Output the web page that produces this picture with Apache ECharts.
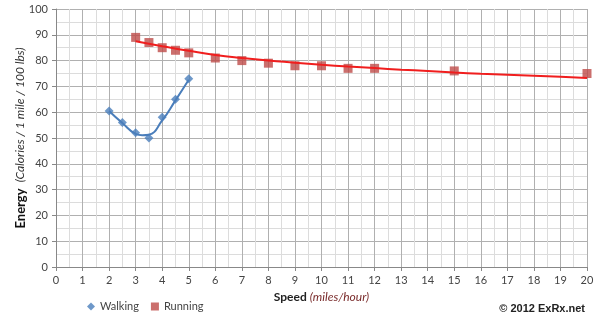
<!DOCTYPE html>
<html>
<head>
<meta charset="utf-8">
<script src="https://cdn.jsdelivr.net/npm/echarts@6/dist/echarts.min.js"></script>
<style>
  html, body { margin: 0; padding: 0; background: #fff; }
  #chart { width: 600px; height: 322px; }
</style>
</head>
<body>
<div id="chart"></div>
<script>
// Energy cost per mile by speed, for walking and running.
const walkSpeed = [2, 2.5, 3, 3.5, 4, 4.5, 5];
const walkEnergy = [60.5, 56, 52, 50, 58, 65, 73];
// Fitted curve through the walking measurements
const walkFitSpeed = [2, 2.5, 3, 3.25, 3.5, 4, 4.5, 5];
const walkFitEnergy = [60.5, 55.8, 51.6, 51.1, 51.3, 56.8, 64.6, 72.6];

const runSpeed = [3, 3.5, 4, 4.5, 5, 6, 7, 8, 9, 10, 11, 12, 15, 20];
const runEnergy = [89, 87, 85, 84, 83, 81, 80, 79, 78, 78, 77, 77, 76, 75];
// Fitted trend for running
const runFitSpeed = [3, 4, 5, 6, 7, 8, 9, 10, 11, 12, 13, 14, 15, 16, 17, 18, 19, 20];
const runFitEnergy = [87.5, 85.6, 83.8, 82.2, 81.0, 80.0, 79.2, 78.4, 77.7, 77.1, 76.5, 76.0, 75.4, 74.9, 74.5, 74.1, 73.7, 73.3];

const zip = (xs, ys) => xs.map((x, i) => [x, ys[i]]);

const FONT = 'Lato, "Open Sans", sans-serif';
const chart = echarts.init(document.getElementById('chart'), null, { renderer: 'canvas' });

chart.setOption({
  animation: false,
  textStyle: { fontFamily: FONT },
  grid: { left: 56, right: 13, top: 9, bottom: 55 },
  title: {
    text: '© 2012 ExRx.net',
    right: 10, bottom: 3,
    textStyle: { fontFamily: 'Liberation Sans, Arial, sans-serif', fontSize: 11, fontWeight: 'bold', color: '#222' }
  },
  legend: {
    left: 82, bottom: 5,
    itemWidth: 8, itemHeight: 8, itemGap: 12,
    textStyle: { fontSize: 11, color: '#444' },
    data: [
      { name: 'Walking', icon: 'diamond' },
      { name: 'Running', icon: 'rect' }
    ]
  },
  xAxis: {
    type: 'value', min: 0, max: 20, interval: 1,
    name: '{b|Speed} {i|(miles/hour)}',
    nameLocation: 'middle', nameGap: 24,
    nameMoveOverlap: false,
    nameTextStyle: {
      rich: {
        b: { fontWeight: 'bold', fontSize: 12, color: '#222', fontFamily: FONT },
        i: { fontStyle: 'italic', fontSize: 12, color: '#7a2b2b', fontFamily: FONT }
      }
    },
    axisLine: { lineStyle: { color: '#888' } },
    axisTick: { show: true, length: 4, lineStyle: { color: '#888' } },
    axisLabel: { fontSize: 11, color: '#444', margin: 8 },
    splitLine: { show: true, lineStyle: { color: '#b0b0b0', width: 1 } },
    minorTick: { show: false, splitNumber: 2 },
    minorSplitLine: { show: true, lineStyle: { color: '#dcdcdc', width: 1 } }
  },
  yAxis: {
    type: 'value', min: 0, max: 100, interval: 10,
    name: '{b|Energy}  {i|(Calories / 1 mile / 100 lbs)}',
    nameLocation: 'middle', nameGap: 29, nameRotate: 90,
    nameMoveOverlap: false,
    nameTextStyle: {
      rich: {
        b: { fontWeight: 'bold', fontSize: 13, color: '#111', fontFamily: FONT },
        i: { fontStyle: 'italic', fontSize: 12, color: '#333', fontFamily: FONT }
      }
    },
    axisLine: { show: true, lineStyle: { color: '#888' } },
    axisTick: { show: true, length: 4, lineStyle: { color: '#888' } },
    axisLabel: { fontSize: 11, color: '#444', margin: 8 },
    splitLine: { show: true, lineStyle: { color: '#b0b0b0', width: 1 } },
    minorTick: { show: false, splitNumber: 2 },
    minorSplitLine: { show: true, lineStyle: { color: '#dcdcdc', width: 1 } }
  },
  series: [
    {
      name: 'Walking', type: 'scatter',
      symbol: 'diamond', symbolSize: 9,
      itemStyle: { color: '#4a7ebb' },
      data: zip(walkSpeed, walkEnergy), z: 3
    },
    {
      name: 'Walking fit', type: 'line', smooth: 0.5,
      showSymbol: false, silent: true,
      lineStyle: { color: '#4a7ebb', width: 2 },
      data: zip(walkFitSpeed, walkFitEnergy), z: 2
    },
    {
      name: 'Running', type: 'scatter',
      symbol: 'rect', symbolSize: 9,
      itemStyle: { color: '#be4b48' },
      data: zip(runSpeed, runEnergy), z: 3
    },
    {
      name: 'Running fit', type: 'line', smooth: true,
      showSymbol: false, silent: true,
      lineStyle: { color: '#f01e1e', width: 2 },
      data: zip(runFitSpeed, runFitEnergy), z: 4
    }
  ]
});
</script>
</body>
</html>
